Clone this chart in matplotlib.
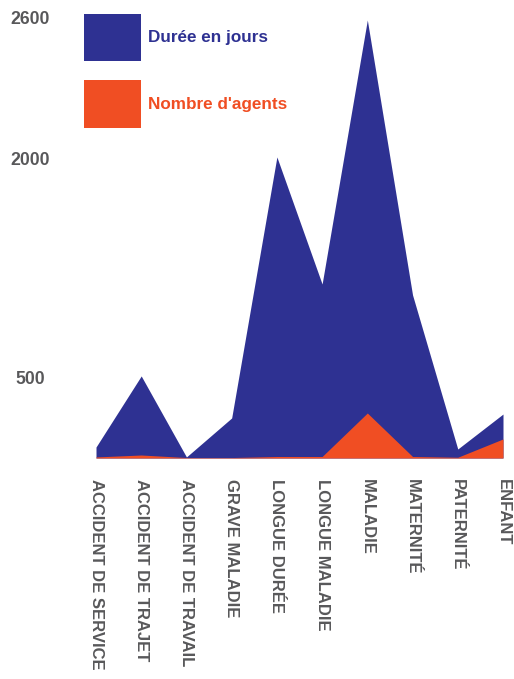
import matplotlib
matplotlib.use("Agg")
import matplotlib.pyplot as plt
from matplotlib.patches import Patch

plt.rcParams['font.family'] = ['Liberation Sans', 'DejaVu Sans']
plt.rcParams['font.weight'] = 'bold'

categories = ["ACCIDENT DE SERVICE", "ACCIDENT DE TRAJET", "ACCIDENT DE TRAVAIL",
              "GRAVE MALADIE", "LONGUE DURÉE", "LONGUE MALADIE", "MALADIE",
              "MATERNITÉ", "PATERNITÉ", "ENFANT"]
duree = [73, 547, 7, 267, 2007, 1160, 2920, 1087, 60, 293]   # Durée en jours
agents = [7, 20, 3, 3, 10, 10, 300, 10, 5, 127]              # Nombre d'agents

ytick_vals = [540, 2000, 2940]
ytick_labels = ["500", "2000", "2600"]

blue = '#2E3192'
orange = '#F04E23'
grey = '#58585A'

W, H = 514, 679
fig = plt.figure(figsize=(W/100, H/100), dpi=100)
ax = fig.add_axes([96/W, 1-458/H, (503-96)/W, (458-10)/H])

x = list(range(len(categories)))
ax.fill_between(x, 0, duree, color=blue, linewidth=0, label="Durée en jours")
ax.fill_between(x, 0, agents, color=orange, linewidth=0, label="Nombre d'agents")

ax.set_xlim(0, len(categories)-1)
ax.set_ylim(0, (458-10)/0.15)
for s in ax.spines.values():
	s.set_visible(False)

ax.set_xticks(x)
ax.set_xticklabels(categories, rotation=270, fontsize=12, color=grey)
ax.set_yticks(ytick_vals)
ax.set_yticklabels(ytick_labels, fontsize=12.7, color=grey, ha='center')
ax.tick_params(axis='x', length=0, pad=15)
ax.tick_params(axis='y', length=0, pad=47.5)

handles = [Patch(facecolor=blue, edgecolor='none'), Patch(facecolor=orange, edgecolor='none')]
leg = fig.legend(handles, ["Durée en jours", "Nombre d'agents"],
	loc='upper left', bbox_to_anchor=(84/W, 1-14/H), bbox_transform=fig.transFigure,
	frameon=False, borderpad=0, borderaxespad=0, fontsize=12.3,
	handlelength=3.33, handleheight=3.9, labelspacing=1.1, handletextpad=0.41)
for t, c in zip(leg.get_texts(), [blue, orange]):
	t.set_color(c)

fig.savefig('out.png', dpi=100)
